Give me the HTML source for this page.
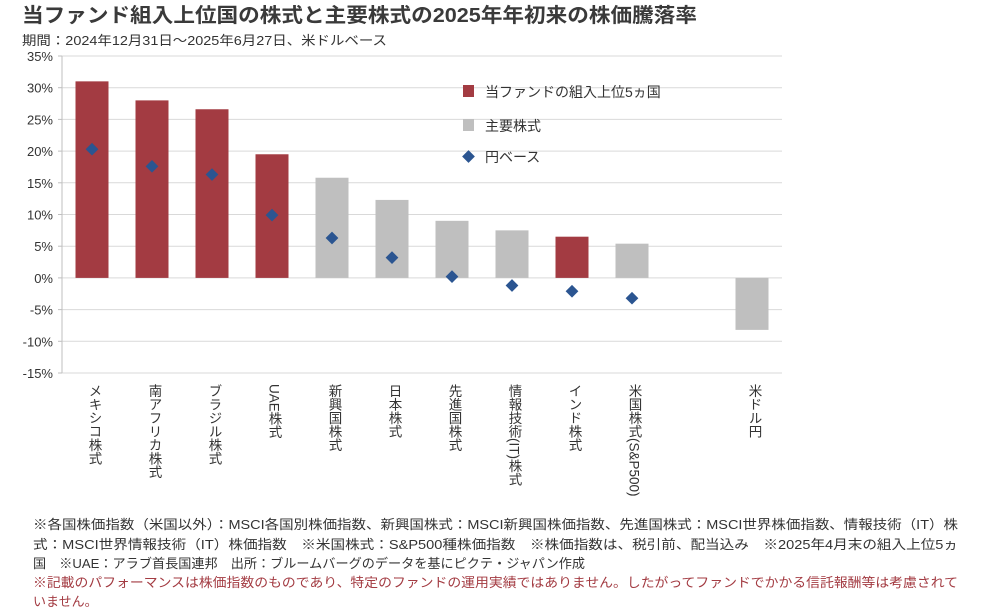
<!DOCTYPE html>
<html><head><meta charset="utf-8"><style>
html,body{margin:0;padding:0;background:#fff;width:981px;height:612px;overflow:hidden}
svg{display:block;font-family:"Liberation Sans","Noto Sans CJK JP",sans-serif}
</style></head><body>
<svg id="c" width="981" height="612" viewBox="0 0 981 612">
<text x="22" y="22" font-size="20" font-weight="bold" fill="#3a3a3a" textLength="675" lengthAdjust="spacingAndGlyphs">当ファンド組入上位国の株式と主要株式の2025年年初来の株価騰落率</text>
<text x="22" y="45" font-size="13" fill="#333" textLength="365" lengthAdjust="spacingAndGlyphs">期間：2024年12月31日～2025年6月27日、米ドルベース</text>
<g id="grid"></g><g id="bars"></g><g id="marks"></g><g id="xl"></g>
<g>
<rect x="463" y="85" width="11" height="12" fill="#a33b42"/>
<text x="485" y="97" font-size="14" fill="#333">当ファンドの組入上位5ヵ国</text>
<rect x="463" y="119" width="11" height="12" fill="#bfbfbf"/>
<text x="485" y="131" font-size="14" fill="#333">主要株式</text>
<rect x="464" y="152" width="9" height="9" fill="#2b5591" transform="rotate(45 468.5 156.5)"/>
<text x="485" y="162" font-size="14" fill="#333">円ベース</text>
</g>
<g font-size="13">
<text x="33" y="529" fill="#333" textLength="925" lengthAdjust="spacingAndGlyphs">※各国株価指数（米国以外）：MSCI各国別株価指数、新興国株式：MSCI新興国株価指数、先進国株式：MSCI世界株価指数、情報技術（IT）株</text>
<text x="33" y="549" fill="#333" textLength="925" lengthAdjust="spacingAndGlyphs">式：MSCI世界情報技術（IT）株価指数　※米国株式：S&amp;P500種株価指数　※株価指数は、税引前、配当込み　※2025年4月末の組入上位5ヵ</text>
<text x="33" y="568" fill="#333" textLength="552" lengthAdjust="spacingAndGlyphs">国　※UAE：アラブ首長国連邦　出所：ブルームバーグのデータを基にピクテ・ジャパン作成</text>
<text x="33" y="587" fill="#a33b42" textLength="925" lengthAdjust="spacingAndGlyphs">※記載のパフォーマンスは株価指数のものであり、特定のファンドの運用実績ではありません。したがってファンドでかかる信託報酬等は考慮されて</text>
<text x="33" y="606" fill="#a33b42">いません。</text>
</g>
</svg>
<script>
const categories=["メキシコ株式","南アフリカ株式","ブラジル株式","UAE株式","新興国株式","日本株式","先進国株式","情報技術(IT)株式","インド株式","米国株式(S&P500)","","米ドル円"];
const usdValues=[31.0,28.0,26.6,19.5,15.8,12.3,9.0,7.5,6.5,5.4,null,-8.2];
const isTop5=[true,true,true,true,false,false,false,false,true,false,false,false];
const yenValues=[20.3,17.6,16.3,9.9,6.3,3.2,0.2,-1.2,-2.1,-3.2,null,null];
const yTicks=[35,30,25,20,15,10,5,0,-5,-10,-15];
const NS="http://www.w3.org/2000/svg";
const x0=62,x1=782,yTop=56,yBot=373,vMax=35,vMin=-15;
const slot=(x1-x0)/categories.length;
const y=v=>yTop+(vMax-v)/(vMax-vMin)*(yBot-yTop);
const xc=i=>x0+slot*(i+0.5);
function mk(t,a,p){const e=document.createElementNS(NS,t);for(const k in a)e.setAttribute(k,a[k]);p.appendChild(e);return e;}
const g=document.getElementById('grid');
yTicks.forEach(v=>{
 const l=mk('line',{x1:x0,x2:x1,y1:y(v),y2:y(v),stroke:'#d9d9d9','stroke-width':1},g);
 
 
 const t=mk('text',{x:53,y:y(v)+5,'font-size':13,fill:'#333','text-anchor':'end'},g);
 t.textContent=v+'%';
 
 
 const tk=mk('line',{x1:x0-4,x2:x0,y1:y(v),y2:y(v),stroke:'#bfbfbf'},g);
 
 
});
const ax=mk('line',{x1:x0,x2:x0,y1:yTop,y2:yBot,stroke:'#bfbfbf'},g);


const b=document.getElementById('bars'),m=document.getElementById('marks'),xl=document.getElementById('xl');
const bw=33;
categories.forEach((c,i)=>{
 const v=usdValues[i];
 if(v!==null){
  const r=mk('rect',{x:xc(i)-bw/2,y:Math.min(y(v),y(0)),width:bw,height:Math.abs(y(v)-y(0)),fill:isTop5[i]?'#a33b42':'#bfbfbf'},b);
  
  
 }
 const yv=yenValues[i];
 if(yv!==null){
  const d=mk('rect',{x:xc(i)-4.5,y:y(yv)-4.5,width:9,height:9,fill:'#2b5591',transform:`rotate(45 ${xc(i)} ${y(yv)})`},m);
  
  
 }
 if(c){
  const t=mk('text',{x:xc(i)+2,y:384,'font-size':13.5,fill:'#333'},xl);
  t.setAttribute('style','writing-mode:vertical-rl;text-orientation:mixed');
  t.textContent=c;
  
  
 }
});
</script>
</body></html>
